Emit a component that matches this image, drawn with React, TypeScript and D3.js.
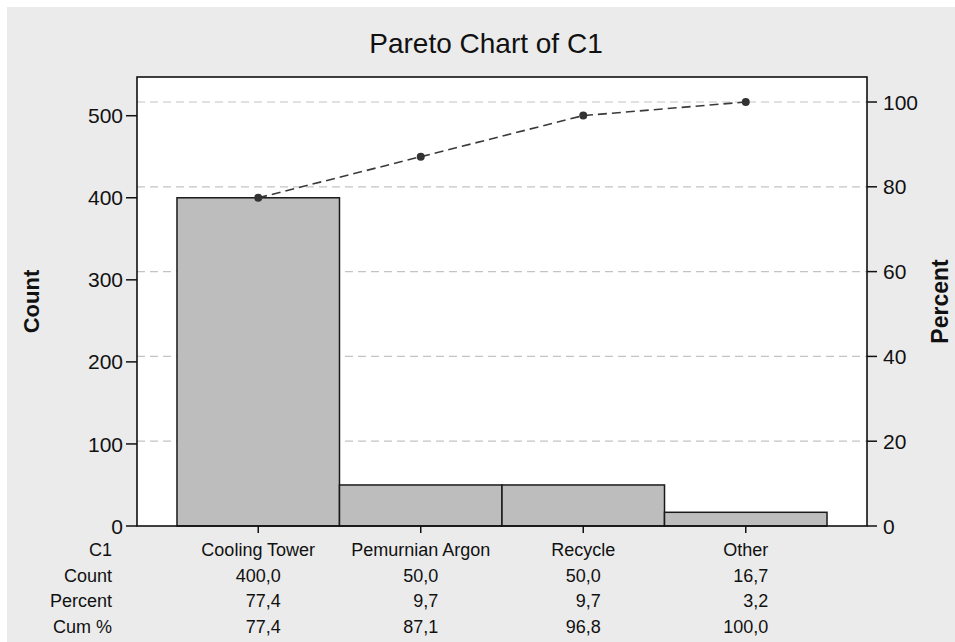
import React from "react";
import * as d3 from "d3";

const categories = ["Cooling Tower", "Pemurnian Argon", "Recycle", "Other"];
const counts = [400.0, 50.0, 50.0, 16.7];
const percents = [77.4, 9.7, 9.7, 3.2];
const cumPercents = [77.4, 87.1, 96.8, 100.0];
const countTicks = [0, 100, 200, 300, 400, 500];
const percentTicks = [0, 20, 40, 60, 80, 100];
const rowLabels = ["C1", "Count", "Percent", "Cum %"];

const W = 955;
const H = 642;
const L = 137, R = 867, T = 77, B = 526;
const FONT = "'Liberation Sans', Arial, sans-serif";

const fmt = (v: number) => v.toFixed(1).replace(".", ",");
const estW = (s: string, fs: number) =>
  s.split("").reduce((a, c) => a + (c === "," || c === "." ? 0.278 : 0.556) * fs, 0);

export default function App() {
  const total = d3.sum(counts);
  const yMax = total * 1.059;
  const x = d3.scaleBand<string>().domain(categories).range([L, R]).paddingInner(0).paddingOuter(0.246);
  const yC = d3.scaleLinear().domain([0, yMax]).range([B, T]);
  const yP = d3.scaleLinear().domain([0, (100 * yMax) / total]).range([B, T]);
  const cx = (c: string) => (x(c) as number) + x.bandwidth() / 2;

  const line = d3
    .line<number>()
    .x((_, i) => cx(categories[i]))
    .y((d) => yP(d));

  const rows = [counts, percents, cumPercents];
  const rowY = (i: number) => 556 + i * 25.7;

  return (
    <svg width={W} height={H} style={{ position: "absolute", left: 0, top: 0 }} fontFamily={FONT}>
      <rect x={7} y={7} width={W - 7} height={H - 7} fill="#ebebeb" />
      <rect x={L} y={T} width={R - L} height={B - T} fill="#ffffff" />
      {percentTicks.filter((p) => p > 0).map((p) => (
        <line key={"g" + p} x1={L} x2={R} y1={yP(p)} y2={yP(p)} stroke="#c4c4c4" strokeWidth={1.2} strokeDasharray="8,5" />
      ))}
      {categories.map((c, i) => (
        <rect key={"b" + c} x={x(c)} y={yC(counts[i])} width={x.bandwidth()} height={B - yC(counts[i])}
          fill="#bdbdbd" stroke="#1a1a1a" strokeWidth={1.5} />
      ))}
      <path d={line(cumPercents) as string} fill="none" stroke="#3a3a3a" strokeWidth={1.6} strokeDasharray="9,5" />
      {cumPercents.map((p, i) => (
        <circle key={"m" + i} cx={cx(categories[i])} cy={yP(p)} r={4} fill="#333333" />
      ))}
      <rect x={L} y={T} width={R - L} height={B - T} fill="none" stroke="#111" strokeWidth={1.6} />
      {countTicks.map((t) => (
        <g key={"lt" + t}>
          <line x1={L - 11} x2={L} y1={yC(t)} y2={yC(t)} stroke="#111" strokeWidth={1.5} />
          <text x={L - 14} y={yC(t)} dy="0.36em" textAnchor="end" fontSize={21} fill="#111">{t}</text>
        </g>
      ))}
      {percentTicks.map((t) => (
        <g key={"rt" + t}>
          <line x1={R} x2={R + 10} y1={yP(t)} y2={yP(t)} stroke="#111" strokeWidth={1.5} />
          <text x={R + 16} y={yP(t)} dy="0.36em" textAnchor="start" fontSize={21} fill="#111">{t}</text>
        </g>
      ))}
      {categories.map((c) => (
        <line key={"xt" + c} x1={cx(c)} x2={cx(c)} y1={B} y2={B + 7} stroke="#111" strokeWidth={1.5} />
      ))}
      <text x={486} y={53} textAnchor="middle" fontSize={28} fill="#111">Pareto Chart of C1</text>
      <text transform={`translate(39,${(T + B) / 2}) rotate(-90)`} textAnchor="middle" fontSize={22} fontWeight="bold" fill="#111">Count</text>
      <text transform={`translate(948,${(T + B) / 2}) rotate(-90)`} textAnchor="middle" fontSize={23} fontWeight="bold" fill="#111">Percent</text>
      {rowLabels.map((r, i) => (
        <text key={"rl" + r} x={112} y={rowY(i)} textAnchor="end" fontSize={18} fill="#111">{r}</text>
      ))}
      {categories.map((c) => (
        <text key={"cl" + c} x={cx(c)} y={rowY(0)} textAnchor="middle" fontSize={18} fill="#111">{c}</text>
      ))}
      {categories.map((c, j) => {
        const strs = rows.map((arr) => fmt(arr[j]));
        const mw = d3.max(strs, (s) => estW(s, 18)) as number;
        return strs.map((s, i) => (
          <text key={"v" + j + "-" + i} x={cx(c) + mw / 2} y={rowY(i + 1)} textAnchor="end" fontSize={18} fill="#111">{s}</text>
        ));
      })}
    </svg>
  );
}
